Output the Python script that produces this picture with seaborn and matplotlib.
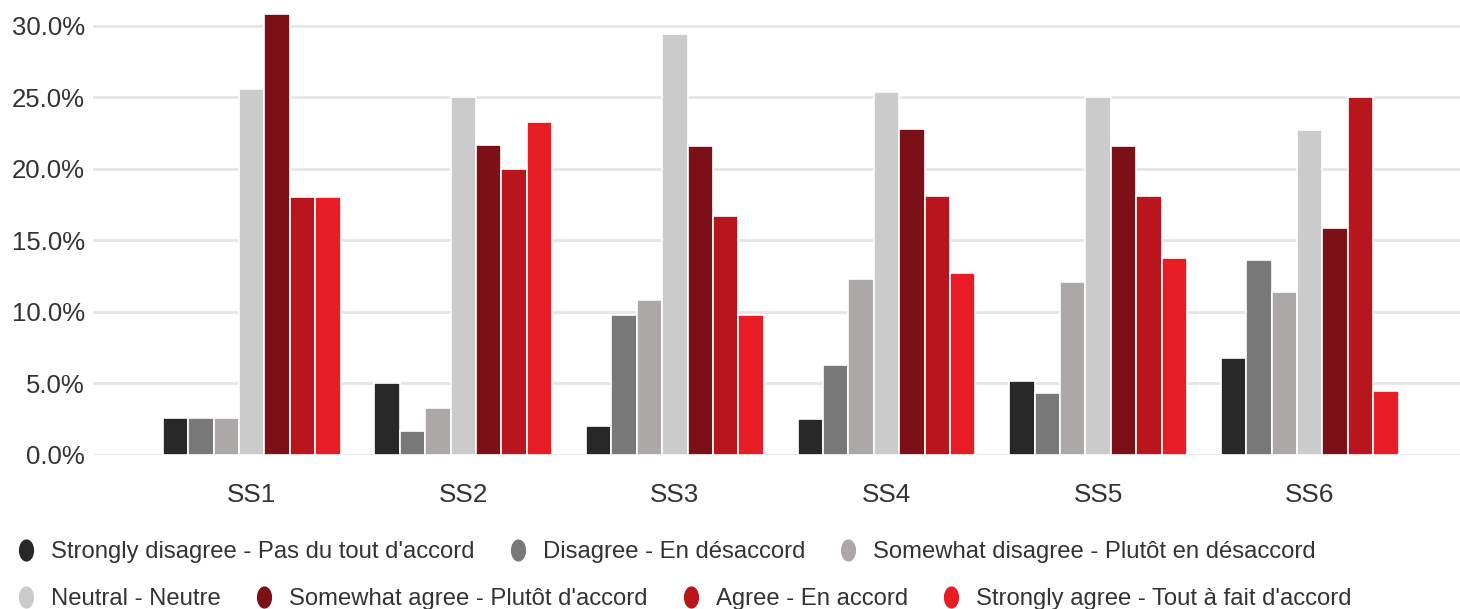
import matplotlib
matplotlib.use("Agg")
import matplotlib.pyplot as plt
from matplotlib.lines import Line2D
from matplotlib.path import Path
from matplotlib.ticker import FuncFormatter
import numpy as np
import pandas as pd
import seaborn as sns

# Survey statements and response scale
statements = ["SS1", "SS2", "SS3", "SS4", "SS5", "SS6"]
responses = [
    "Strongly disagree - Pas du tout d'accord",
    "Disagree - En désaccord",
    "Somewhat disagree - Plutôt en désaccord",
    "Neutral - Neutre",
    "Somewhat agree - Plutôt d'accord",
    "Agree - En accord",
    "Strongly agree - Tout à fait d'accord",
]

# Share of respondents (%) per response, one value per statement
strongly_disagree = [2.6, 5.0, 2.0, 2.5, 5.2, 6.8]
disagree = [2.6, 1.7, 9.8, 6.3, 4.3, 13.6]
somewhat_disagree = [2.6, 3.3, 10.8, 12.3, 12.1, 11.4]
neutral = [25.6, 25.0, 29.4, 25.4, 25.0, 22.7]
somewhat_agree = [30.8, 21.7, 21.6, 22.8, 21.6, 15.9]
agree = [18.0, 20.0, 16.7, 18.1, 18.1, 25.0]
strongly_agree = [18.0, 23.3, 9.8, 12.7, 13.8, 4.5]

colors = ["#282828", "#787878", "#aba8a7", "#cbcbcb", "#7b1016", "#b9151c", "#e81c24"]

series = [strongly_disagree, disagree, somewhat_disagree, neutral,
          somewhat_agree, agree, strongly_agree]
df = pd.DataFrame(
    [(s, r, v) for r, vals in zip(responses, series) for s, v in zip(statements, vals)],
    columns=["statement", "response", "pct"],
)

sns.set_theme(style="white")
plt.rcParams["font.family"] = ["Liberation Sans", "DejaVu Sans"]
text_color = "#333333"

fig = plt.figure(figsize=(14.6, 6.09), dpi=100)
ax = fig.add_axes([93 / 1460, 1 - 455 / 609, 1 - 93 / 1460, 455 / 609])

sns.barplot(
    data=df, x="statement", y="pct", hue="response",
    order=statements, hue_order=responses, palette=colors,
    width=0.84, saturation=1, edgecolor="white", linewidth=1.2,
    legend=False, ax=ax, zorder=3,
)

ax.set_xlim(-0.75, 5.71)
ax.set_ylim(0, 31.8)
ax.set_yticks(np.arange(0, 31, 5))
ax.yaxis.set_major_formatter(FuncFormatter(lambda v, _: f"{v:.1f}%"))
ax.grid(axis="y", color="#e6e6e6", linewidth=2, zorder=0)
ax.grid(axis="x", visible=False)
for sp in ax.spines.values():
    sp.set_visible(False)
ax.set_xlabel("")
ax.set_ylabel("")
ax.tick_params(axis="y", length=0, pad=6, labelsize=18.5, labelcolor=text_color)
ax.tick_params(axis="x", length=0, pad=20, labelsize=18.8, labelcolor=text_color)

# Slightly upright ellipse used as the legend marker
t = np.linspace(0, 2 * np.pi, 60)
ellipse = Path(np.column_stack([0.66 * np.cos(t), np.sin(t)]), closed=True)

def handles_for(idx):
    return [Line2D([], [], linestyle="none", marker=ellipse, markersize=15,
                   markerfacecolor=colors[i], markeredgecolor=colors[i]) for i in idx]

legend_kw = dict(frameon=False, fontsize=17.2, handlelength=0.6, handletextpad=0.75,
                 columnspacing=1.5, borderpad=0, borderaxespad=0, loc="center left",
                 labelcolor=text_color)
row1 = [0, 1, 2]
row2 = [3, 4, 5, 6]
leg1 = fig.legend(handles_for(row1), [responses[i] for i in row1], ncol=3,
                  bbox_to_anchor=(19 / 1460, 1 - 552 / 609), **legend_kw)
leg2 = fig.legend(handles_for(row2), [responses[i] for i in row2], ncol=4,
                  bbox_to_anchor=(19 / 1460, 1 - 599 / 609), **legend_kw)

fig.savefig("out.png", dpi=100)
